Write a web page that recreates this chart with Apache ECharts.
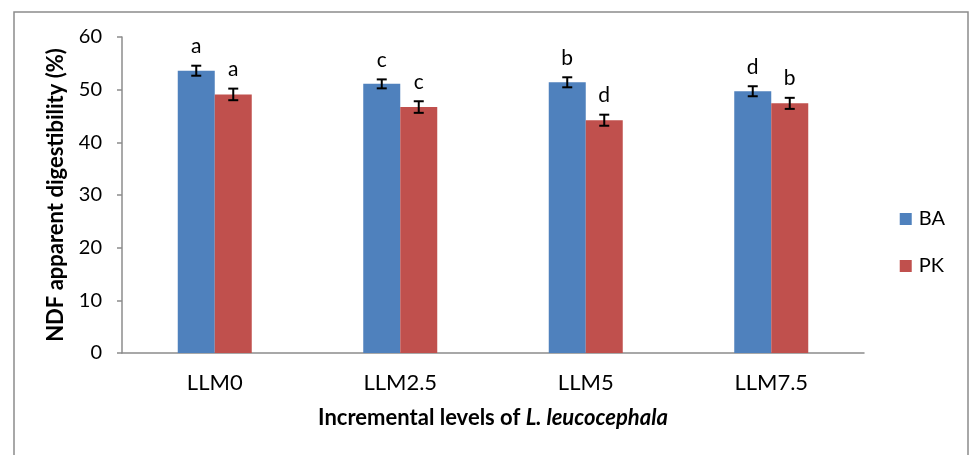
<!DOCTYPE html>
<html><head><meta charset="utf-8">
<script src="https://cdn.jsdelivr.net/npm/echarts@6/dist/echarts.min.js"></script>
<style>html,body{margin:0;padding:0;background:#fff}#c{width:970px;height:455px}</style>
</head><body><div id="c"></div>
<script>
const categories = ['LLM0', 'LLM2.5', 'LLM5', 'LLM7.5'];
const seriesNames = ['BA', 'PK'];
const baValues = [53.6, 51.1, 51.4, 49.7];
const pkValues = [49.1, 46.7, 44.2, 47.4];
const baErrors = [0.95, 0.85, 0.95, 0.95];
const pkErrors = [1.1, 1.1, 1.05, 1.05];
const baLetters = ['a', 'c', 'b', 'd'];
const pkLetters = ['a', 'c', 'd', 'b'];
const yTicks = [0, 10, 20, 30, 40, 50, 60];

const colors = ['#4F81BD', '#C0504D'];
const FONT = 'Lato, "Open Sans", sans-serif';
const BAR_W = 37;

function errSeries(idx, vals, errs, letters) {
  const data = vals.map((v, i) => [i, v, errs[i]]);
  return {
    type: 'custom', name: seriesNames[idx] + '_err', z: 10, silent: true,
    data: data,
    renderItem: function (params, api) {
      const i = api.value(0), v = api.value(1), e = api.value(2);
      const letter = letters[i];
      const off = (idx === 0 ? -1 : 1) * BAR_W / 2;
      const hi = api.coord([i, v + e]);
      const lo = api.coord([i, v - e]);
      const x = hi[0] + off;
      const cap = 5;
      const st = { stroke: '#000', lineWidth: 2 };
      return {
        type: 'group', children: [
          { type: 'line', shape: { x1: x, y1: hi[1], x2: x, y2: lo[1] }, style: st },
          { type: 'line', shape: { x1: x - cap, y1: hi[1], x2: x + cap, y2: hi[1] }, style: st },
          { type: 'line', shape: { x1: x - cap, y1: lo[1], x2: x + cap, y2: lo[1] }, style: st },
          { type: 'text', x: x, y: hi[1] - 9, style: { text: letter, fill: '#000', font: '21px ' + FONT, align: 'center', verticalAlign: 'bottom' } }
        ]
      };
    }
  };
}

const chart = echarts.init(document.getElementById('c'));
chart.setOption({
  animation: false,
  backgroundColor: '#fff',
  graphic: [{ type: 'rect', shape: { x: 14, y: 12, width: 954, height: 460 }, style: { fill: 'none', stroke: '#8c8c8c', lineWidth: 1.5 }, z: -1 }],
  grid: { left: 122, right: 106, top: 37, bottom: 102 },
  legend: {
    orient: 'vertical', right: 20, top: 204, itemWidth: 12, itemHeight: 12, itemGap: 27,
    data: seriesNames, icon: 'rect',
    textStyle: { fontFamily: FONT, fontSize: 20, color: '#000', padding: [0, 0, 0, 2] }
  },
  xAxis: {
    type: 'category', data: categories,
    axisLine: { lineStyle: { color: '#8c8c8c', width: 1.5 } },
    axisTick: { show: false },
    axisLabel: { fontFamily: FONT, fontSize: 22, color: '#000', margin: 19 },
    name: '{b|Incremental levels of }{bi|L. leucocephala}', nameLocation: 'middle', nameGap: 54,
    nameTextStyle: { fontFamily: FONT, fontSize: 22, fontWeight: 'bold', color: '#000', rich: {
      b: { fontFamily: FONT, fontSize: 22, fontWeight: 'bold', color: '#000' },
      bi: { fontFamily: FONT, fontSize: 22, fontWeight: 'bold', fontStyle: 'italic', color: '#000' } } }
  },
  yAxis: {
    type: 'value', min: 0, max: 60, interval: 10,
    axisLine: { show: true, lineStyle: { color: '#8c8c8c', width: 1.5 } },
    axisTick: { show: true, length: 5, lineStyle: { color: '#8c8c8c', width: 1.5 } },
    splitLine: { show: false },
    axisLabel: { fontFamily: FONT, fontSize: 20, color: '#000', margin: 20,
      formatter: v => yTicks.includes(v) ? String(v) : '' },
    name: 'NDF apparent digestibility (%)', nameLocation: 'middle', nameGap: 55,
    nameTextStyle: { fontFamily: FONT, fontSize: 22, fontWeight: 'bold', color: '#000' }
  },
  series: [
    { type: 'bar', name: 'BA', data: baValues, barWidth: BAR_W, barGap: '0%', itemStyle: { color: colors[0] } },
    { type: 'bar', name: 'PK', data: pkValues, barWidth: BAR_W, barGap: '0%', itemStyle: { color: colors[1] } },
    errSeries(0, baValues, baErrors, baLetters),
    errSeries(1, pkValues, pkErrors, pkLetters)
  ]
});
</script></body></html>
